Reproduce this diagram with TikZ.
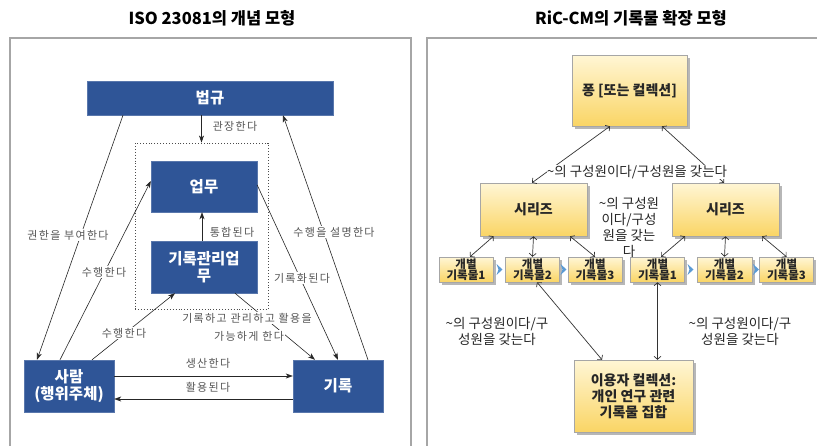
\documentclass[tikz,border=0pt]{standalone}
\usepackage{fontspec}
\setmainfont{Noto Sans CJK KR}
\newfontfamily\lblfont[LetterSpace=12]{Noto Sans CJK KR}
\usetikzlibrary{arrows.meta,shadows,calc}
\definecolor{navy}{HTML}{2F5597}
\definecolor{panelgray}{HTML}{A6A6A6}
\definecolor{lblgray}{HTML}{555555}
\definecolor{ytop}{HTML}{FFF6D5}
\definecolor{ybot}{HTML}{FAD565}
\definecolor{chevblue}{HTML}{5B9BD5}
\definecolor{rtext}{HTML}{262626}
\tikzset{
  panel/.style={draw=panelgray, line width=1.2pt},
  title/.style={font=\fontsize{16.5}{18}\selectfont\bfseries, text=black},
  bluebox/.style={fill=navy, draw=navy!80!white, text=white, font=\fontsize{15.5}{17.5}\selectfont\bfseries, align=center, inner sep=0pt},
  isolbl/.style={fill=white, text=lblgray, font=\lblfont\fontsize{11}{12}\selectfont, inner sep=1pt},
  isoarr/.style={draw=black!85, line width=0.6pt, -{Stealth[length=7pt,width=5pt,inset=2pt]}},
  ybox/.style={draw=panelgray, line width=0.5pt, top color=ytop, bottom color=ybot, text=rtext, align=center, inner sep=0pt,
     drop shadow={shadow xshift=2.5pt, shadow yshift=-2.5pt, fill=black!35, opacity=0.8}},
  bigtxt/.style={font=\fontsize{14}{16}\selectfont\bfseries},
  smalltxt/.style={font=\fontsize{11.5}{11.5}\selectfont\bfseries},
  riclbl/.style={text=rtext, font=\fontsize{13.5}{16}\selectfont, align=center, inner sep=1pt},
  ricarr/.style={draw=black!80, line width=0.7pt, {Straight Barb[length=3pt,width=7pt]}-{Straight Barb[length=3pt,width=7pt]}},
  chev/.style={fill=chevblue, draw=none}
}
\begin{document}
\begin{tikzpicture}[x=1pt,y=-1pt]
\useasboundingbox (0,0) rectangle (817,445);
\fill[white] (0,0) rectangle (817,445);

% titles
\node[title] (t1) at (212,18) {ISO 23081의 개념 모형};
\node[title] (t2) at (631,18) {RiC-CM의 기록물 확장 모형};

% panels
\draw[panel] (10,470) -- (10,38) -- (411,38) -- (411,470);
\draw[panel] (427,470) -- (427,38) -- (830,38);

% ---------- left: ISO 23081 ----------
\node[draw=black!70, dotted, line width=0.9pt, minimum width=133pt, minimum height=166pt, inner sep=0pt] (dotbox) at (201.5,226) {};
\node[bluebox, minimum width=246pt, minimum height=34pt] (law) at (210,98) {법규};
\node[bluebox, minimum width=106pt, minimum height=51pt] (work) at (204,186.5) {업무};
\node[bluebox, minimum width=106pt, minimum height=52pt] (rmw) at (204,267) {기록관리업\\무};
\node[bluebox, minimum width=90pt, minimum height=52pt] (person) at (69,386) {사람\\(행위주체)};
\node[bluebox, minimum width=90pt, minimum height=52pt] (record) at (338,386) {기록};

\draw[isoarr] (law.south -| dotbox.north) -- (dotbox.north);
\draw[isoarr] ([xshift=-2pt]rmw.north) -- ([xshift=-2pt]work.south);
\draw[isoarr] ([xshift=-87pt]law.south) -- ([xshift=-32pt]person.north);
\draw[isoarr] ([xshift=-9pt]person.north) -- ([yshift=5.5pt]work.west);
\draw[isoarr] ([xshift=23pt]person.north) -- ([xshift=-29pt]rmw.south);
\draw[isoarr] ([yshift=1.5pt]work.east) -- (record.north);
\draw[isoarr] ([xshift=30pt]record.north) -- ([xshift=73pt]law.south);
\draw[isoarr] ([xshift=31pt]rmw.south) -- ([xshift=-23pt]record.north);
\draw[isoarr] ([yshift=10pt]person.east) -- ([yshift=10pt]record.west);
\draw[isoarr] ([yshift=-13pt]record.west) -- ([yshift=-13pt]person.east);

\node[isolbl] (l1) at (235,126) {관장한다};
\node[isolbl] (l2) at (232,232) {통합된다};
\node[isolbl] (l3) at (68,235) {권한을 부여한다};
\node[isolbl] (l4) at (104,272) {수행한다};
\node[isolbl] (l5) at (124,333) {수행한다};
\node[isolbl] (l6) at (302,278) {기록화된다};
\node[isolbl] (l7) at (334,232) {수행을 설명한다};
\node[isolbl] (l8) at (247,318) {기록하고 관리하고 활용을};
\node[isolbl] (l9) at (249,336) {가능하게 한다};
\node[isolbl] (l10) at (208,363) {생산한다};
\node[isolbl] (l11) at (208,387) {활용된다};

% ---------- right: RiC-CM ----------
\node[ybox, bigtxt, minimum width=115pt, minimum height=71pt] (fonds) at (629.5,90.5) {퐁 [또는 컬렉션]};
\node[ybox, bigtxt, minimum width=107pt, minimum height=53pt] (serL) at (533.5,209.5) {시리즈};
\node[ybox, bigtxt, minimum width=107pt, minimum height=53pt] (serR) at (725.5,209.5) {시리즈};
\node[ybox, smalltxt, minimum width=54pt, minimum height=25pt] (L1) at (466,269.5) {개별\\기록물1};
\node[ybox, smalltxt, minimum width=54pt, minimum height=25pt] (L2) at (532.5,269.5) {개별\\기록물2};
\node[ybox, smalltxt, minimum width=54pt, minimum height=25pt] (L3) at (595,269.5) {개별\\기록물3};
\node[ybox, smalltxt, minimum width=54pt, minimum height=25pt] (R1) at (657.5,269.5) {개별\\기록물1};
\node[ybox, smalltxt, minimum width=55pt, minimum height=25pt] (R2) at (724.5,269.5) {개별\\기록물2};
\node[ybox, smalltxt, minimum width=54pt, minimum height=25pt] (R3) at (786.5,269.5) {개별\\기록물3};
\node[ybox, bigtxt, minimum width=119pt, minimum height=72pt] (user) at (633.5,396) {이용자 컬렉션:\\개인 연구 관련\\기록물 집합};

% chevrons
\foreach \cx in {499.5,563.5,690.5,756}{
  \fill[chev] (\cx-3,264) -- (\cx+3,269.5) -- (\cx-3,275) -- (\cx-1,269.5) -- cycle;
}

\draw[ricarr] ([xshift=-19.5pt]fonds.south) -- ([xshift=-1.5pt]serL.north);
\draw[ricarr] ([xshift=32.5pt]fonds.south) -- ([xshift=-1.5pt]serR.north);
\draw[ricarr] ([xshift=-40pt]serL.south) -- ([xshift=4pt]L1.north);
\draw[ricarr] (serL.south) -- (L2.north);
\draw[ricarr] ([xshift=36.5pt]serL.south) -- (L3.north);
\draw[ricarr] ([xshift=-40.5pt]serR.south) -- ([xshift=3.5pt]R1.north);
\draw[ricarr] (serR.south) -- (R2.north);
\draw[ricarr] ([xshift=36.5pt]serR.south) -- (R3.north);
\draw[ricarr] ([xshift=4.5pt]L2.south) -- ([xshift=-31.5pt]user.north);
\draw[ricarr] (R1.south) -- (R1.south |- user.north);

\node[riclbl, fill=white, inner sep=0pt] (r1) at (637,172) {\textasciitilde 의 구성원이다/구성원을 갖는다};
\node[riclbl, fill=white, inner sep=0pt] (r2) at (629,227) {\textasciitilde 의 구성원\\이다/구성\\원을 갖는\\다};
\node[riclbl] (r3) at (497,331) {\textasciitilde 의 구성원이다/구\\성원을 갖는다};
\node[riclbl] (r4) at (740,331) {\textasciitilde 의 구성원이다/구\\성원을 갖는다};
\end{tikzpicture}
\end{document}
